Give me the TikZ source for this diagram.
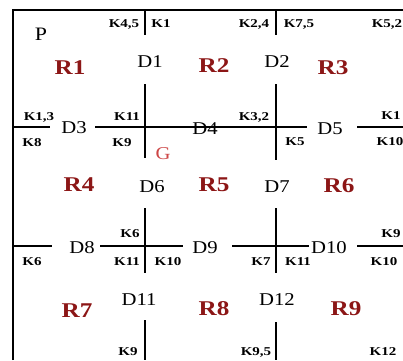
\documentclass[tikz,border=0pt]{standalone}
\usepackage{fontspec}
\setmainfont{Liberation Serif}
\newfontfamily\dfont[FakeStretch=1.15]{Liberation Serif}
\newfontfamily\kfont[FakeStretch=1.25]{Liberation Serif}
\newfontfamily\rfont[FakeStretch=1.2]{Liberation Serif}
\definecolor{rdark}{RGB}{140,22,22}
\definecolor{gred}{RGB}{205,70,70}
\tikzset{
  dlab/.style={font=\dfont\fontsize{18}{18}\selectfont, inner sep=0pt, text height=11.8pt, text depth=0pt},
  klab/.style={font=\kfont\bfseries\fontsize{12}{12}\selectfont, inner sep=0pt, text height=7.9pt, text depth=0pt},
  rlab/.style={font=\rfont\bfseries\fontsize{21}{21}\selectfont, text=rdark, inner sep=0pt, text height=13.8pt, text depth=0pt},
  plab/.style={font=\dfont\fontsize{19}{19}\selectfont, inner sep=0pt, text height=12.4pt, text depth=0pt},
  glab/.style={font=\dfont\fontsize{18}{18}\selectfont, text=gred, inner sep=0pt, text height=11.8pt, text depth=0pt},
  wall/.style={line width=1.3pt, draw=black}
}
\begin{document}
\begin{tikzpicture}[x=1pt,y=-1pt]
\useasboundingbox (0,0) rectangle (403,360);
\fill[white] (0,0) rectangle (403,360);
% frame corners
\coordinate (fTL) at (13,10);
\coordinate (fTR) at (403,10);
\coordinate (fBL) at (13,360);
\draw[wall] (fBL) -- (fTL) -- (fTR);
% vertical line at x=145
\coordinate (a1) at (145,10);  \coordinate (a2) at (145,35);
\coordinate (a3) at (145,84);  \coordinate (a4) at (145,158);
\coordinate (a5) at (145,208); \coordinate (a6) at (145,273);
\coordinate (a7) at (145,320); \coordinate (a8) at (145,360);
\draw[wall] (a1) -- (a2) (a3) -- (a4) (a5) -- (a6) (a7) -- (a8);
% vertical line at x=276
\coordinate (b1) at (276,10);  \coordinate (b2) at (276,35);
\coordinate (b3) at (276,84);  \coordinate (b4) at (276,160);
\coordinate (b5) at (276,208); \coordinate (b6) at (276,273);
\coordinate (b7) at (276,322); \coordinate (b8) at (276,360);
\draw[wall] (b1) -- (b2) (b3) -- (b4) (b5) -- (b6) (b7) -- (b8);
% horizontal line at y=127
\coordinate (c1) at (13,127);  \coordinate (c2) at (50,127);
\coordinate (c3) at (95,127);  \coordinate (c4) at (307,127);
\coordinate (c5) at (357,127); \coordinate (c6) at (403,127);
\draw[wall] (c1) -- (c2) (c3) -- (c4) (c5) -- (c6);
% horizontal line at y=246
\coordinate (d1) at (13,246);  \coordinate (d2) at (52,246);
\coordinate (d3) at (100,246); \coordinate (d4) at (183,246);
\coordinate (d5) at (232,246); \coordinate (d6) at (309,246);
\coordinate (d7) at (357,246); \coordinate (d8) at (403,246);
\draw[wall] (d1) -- (d2) (d3) -- (d4) (d5) -- (d6) (d7) -- (d8);
% P and G
\node[plab] (P) at (41,34) {P};
\node[glab] (G) at (163,154) {G};
% rooms
\node[rlab] (R1) at (70,68) {R1};
\node[rlab] (R2) at (214,66) {R2};
\node[rlab] (R3) at (333,68) {R3};
\node[rlab] (R4) at (79,185) {R4};
\node[rlab] (R5) at (214,185) {R5};
\node[rlab] (R6) at (339,186) {R6};
\node[rlab] (R7) at (77,311) {R7};
\node[rlab] (R8) at (214,309) {R8};
\node[rlab] (R9) at (346,309) {R9};
% doors
\node[dlab] (D1) at (150,62) {D1};
\node[dlab] (D2) at (277,62) {D2};
\node[dlab] (D3) at (74,128) {D3};
\node[dlab] (D4) at (205,129) {D4};
\node[dlab] (D5) at (330,129) {D5};
\node[dlab] (D6) at (152,187) {D6};
\node[dlab] (D7) at (277,187) {D7};
\node[dlab] (D8) at (82,248) {D8};
\node[dlab] (D9) at (205,248) {D9};
\node[dlab] (D10) at (329,248) {D10};
\node[dlab] (D11) at (139,300) {D11};
\node[dlab] (D12) at (277,300) {D12};
% keys top
\node[klab] (k45) at (124,24) {K4,5};
\node[klab] (k1a) at (161,24) {K1};
\node[klab] (k24) at (254,24) {K2,4};
\node[klab] (k75) at (299,24) {K7,5};
\node[klab] (k52) at (387,24) {K5,2};
% keys row 127
\node[klab] (k13) at (39,117) {K1,3};
\node[klab] (k11a) at (127,117) {K11};
\node[klab] (k32) at (254,117) {K3,2};
\node[klab] (k1b) at (391,116) {K1};
\node[klab] (k8) at (32,143) {K8};
\node[klab] (k9a) at (122,143) {K9};
\node[klab] (k5) at (295,142) {K5};
\node[klab] (k10a) at (390,142) {K10};
% keys row 246
\node[klab] (k6a) at (130,234) {K6};
\node[klab] (k9b) at (391,234) {K9};
\node[klab] (k6b) at (32,262) {K6};
\node[klab] (k11b) at (127,262) {K11};
\node[klab] (k10b) at (168,262) {K10};
\node[klab] (k7) at (261,262) {K7};
\node[klab] (k11c) at (298,262) {K11};
\node[klab] (k10c) at (384,262) {K10};
% keys bottom
\node[klab] (k9c) at (128,352) {K9};
\node[klab] (k95) at (256,352) {K9,5};
\node[klab] (k12) at (383,352) {K12};
\end{tikzpicture}
\end{document}
